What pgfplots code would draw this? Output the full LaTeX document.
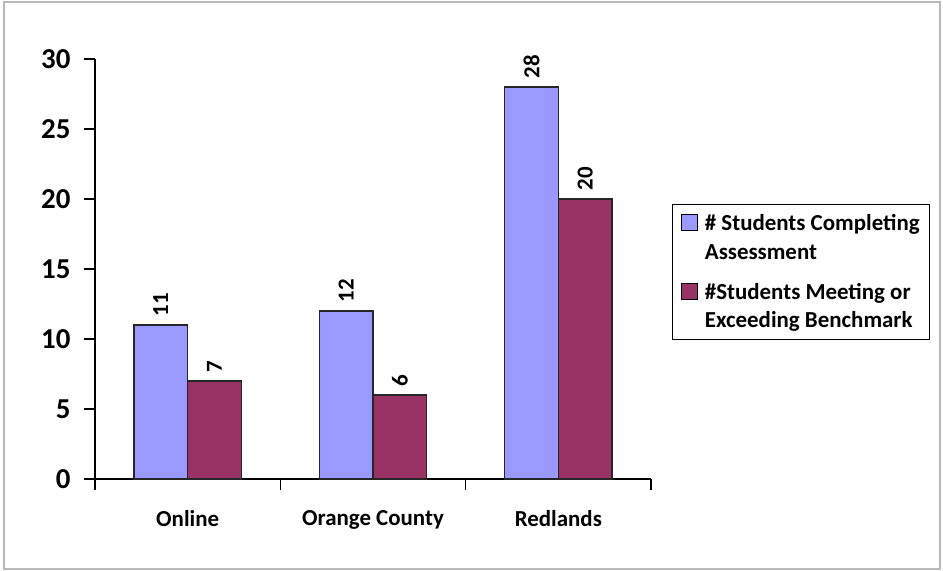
\documentclass[border=0pt]{standalone}
\usepackage{fontspec}
\setmainfont{Carlito}
\usepackage{pgfplots}
\pgfplotsset{compat=1.18}
\definecolor{cblue}{HTML}{9999FF}
\definecolor{cmaroon}{HTML}{993366}
\begin{document}
\begin{tikzpicture}
\useasboundingbox (-95bp,-92bp) rectangle (848bp,479bp);
\draw[gray!55, line width=1.5bp] (-91bp,-90bp) rectangle (845bp,477bp);
\begin{axis}[
  at={(0bp,0bp)}, anchor=south west,
  width=556bp, height=420bp, scale only axis,
  xmin=-0.5, xmax=2.5, ymin=0, ymax=30,
  clip=false,
  ybar=0pt, bar width=0.29,
  axis x line*=bottom, axis y line*=left,
  axis line style={black, line width=1.2bp},
  tick style={black, line width=1.2bp},
  tick align=outside,
  major tick length=11bp,
  /pgf/number format/assume math mode=true,
  ytick={0,5,...,30},
  yticklabel style={font=\bfseries\fontsize{29}{29}\selectfont, xshift=-10bp},
  xtick={-0.5,0.5,1.5,2.5}, xticklabels={},
  extra x ticks={0,1,2},
  extra x tick labels={Online,Orange County,Redlands},
  extra x tick style={major tick length=0pt,
     xticklabel style={font=\bfseries\fontsize{23}{23}\selectfont, yshift=-28bp}},
  nodes near coords,
  every node near coord/.append style={rotate=90, anchor=west, inner xsep=8bp,
     font=\bfseries\fontsize{23}{23}\selectfont, black},
  legend style={at={(1.038,0.655)}, anchor=north west, draw=black,
     line width=1.2bp, font=\bfseries\fontsize{23}{29}\selectfont,
     cells={align=left, anchor=west}, row sep=18bp,
     inner xsep=8bp, inner ysep=8bp},
  legend image code/.code={\draw[#1, line width=1bp, draw=black] (0bp,7bp) rectangle (16bp,23bp);
     \path (21bp,7bp);},
]
\addplot[fill=cblue, draw=black!85, line width=1.3bp] coordinates {(0,11) (1,12) (2,28)};
\addlegendentry{\# Students Completing\\Assessment}
\addplot[fill=cmaroon, draw=black!85, line width=1.3bp] coordinates {(0,7) (1,6) (2,20)};
\addlegendentry{\#Students Meeting or\\Exceeding Benchmark}
\end{axis}
\end{tikzpicture}
\end{document}
